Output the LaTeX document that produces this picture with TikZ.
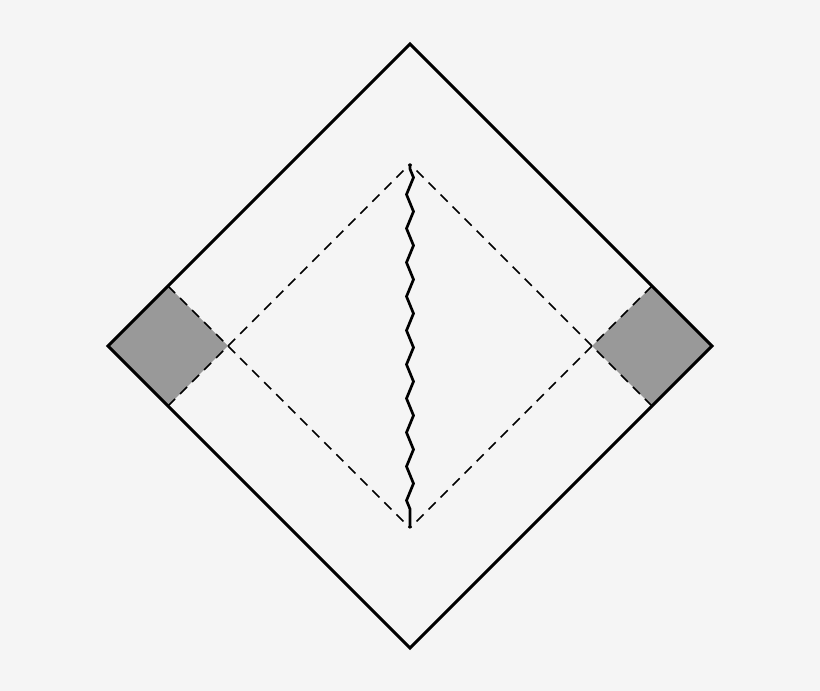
\documentclass[tikz,border=0pt]{standalone}
\usetikzlibrary{decorations.pathmorphing}
\definecolor{bgc}{HTML}{F5F5F5}
\definecolor{regionc}{HTML}{999999}
\tikzset{
  outerline/.style={line width=3pt, line join=miter},
  dashline/.style={line width=1.5pt, dash pattern=on 10pt off 7pt},
  region/.style={fill=regionc},
  singular/.style={line width=2.7pt, decorate, decoration={zigzag, segment length=34pt, amplitude=3.5pt, pre length=5pt, post length=5pt}}
}
\begin{document}
\begin{tikzpicture}[x=1pt,y=1pt]
\fill[bgc] (0,0) rectangle (820,691);
\useasboundingbox (0,0) rectangle (820,691);
% outer diamond
\coordinate (T) at (410,647);
\coordinate (L) at (108,345);
\coordinate (B) at (410,43);
\coordinate (R) at (712,345);
% inner points
\coordinate (IT) at (410,527);
\coordinate (IB) at (410,163);
% square corners
\coordinate (LT) at (168,405);
\coordinate (LB) at (168,285);
\coordinate (LI) at (228,345);
\coordinate (RT) at (652,405);
\coordinate (RB) at (652,285);
\coordinate (RI) at (592,345);
% grey regions
\fill[region] (L) -- (LT) -- (LI) -- (LB) -- cycle;
\fill[region] (R) -- (RT) -- (RI) -- (RB) -- cycle;
% dashed horizons
\draw[dashline] (LT) -- (IB);
\draw[dashline] (LB) -- (IT);
\draw[dashline] (RT) -- (IB);
\draw[dashline] (RB) -- (IT);
% outer boundary
\draw[outerline] (T) -- (R) -- (B) -- (L) -- cycle;
% singularity
\draw[singular] (IT) -- (IB);
\end{tikzpicture}
\end{document}
